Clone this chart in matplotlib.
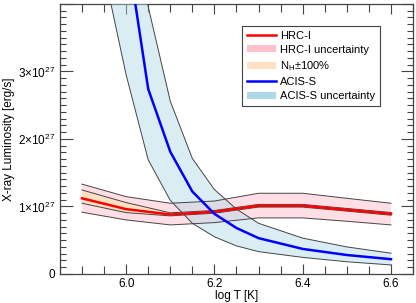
import numpy as np
import matplotlib.pyplot as plt
from matplotlib.patches import Patch
from matplotlib.lines import Line2D
from matplotlib.ticker import MultipleLocator, FuncFormatter

plt.rcParams['font.family'] = ['Liberation Sans', 'DejaVu Sans']
plt.rcParams['mathtext.fontset'] = 'custom'
plt.rcParams['mathtext.rm'] = 'Liberation Sans'

# ---- data (luminosity in units of 1e27 erg/s) ----
logT_hrc = [5.9, 6.0, 6.1, 6.2, 6.3, 6.4, 6.5, 6.6]
hrc = [1.12, 0.96, 0.88, 0.92, 1.01, 1.01, 0.95, 0.89]
hrc_hi = [1.33, 1.145, 1.047, 1.08, 1.195, 1.195, 1.12, 1.047]
hrc_lo = [0.914, 0.80, 0.726, 0.76, 0.83, 0.83, 0.78, 0.726]
nh_hi = [1.244, 1.057, 0.905, 0.94, 1.03, 1.03, 0.97, 0.91]
nh_lo = [1.047, 0.908, 0.86, 0.90, 0.99, 0.99, 0.93, 0.87]

logT_acis = [5.9, 6.0, 6.05, 6.1, 6.15, 6.2, 6.25, 6.3, 6.4, 6.5, 6.6]
acis = [12.0, 4.9, 2.74, 1.81, 1.22, 0.89, 0.68, 0.53, 0.37, 0.28, 0.218]
acis_hi = [17.0, 6.9, 3.96, 2.56, 1.71, 1.25, 0.96, 0.75, 0.53, 0.40, 0.307]
acis_lo = [6.0, 2.95, 1.69, 1.09, 0.75, 0.55, 0.415, 0.33, 0.245, 0.18, 0.133]

scale = 1e27

fig, ax = plt.subplots(figsize=(4.16, 3.03), dpi=100)
fig.subplots_adjust(left=0.144, right=0.993, top=0.987, bottom=0.096)

t_h = np.array(logT_hrc)
t_a = np.array(logT_acis)

# HRC-I bands
ax.fill_between(t_h, np.array(hrc_lo) * scale, np.array(hrc_hi) * scale,
                facecolor='#ffdfe5', edgecolor='none', zorder=1)
ax.plot(t_h, np.array(hrc_hi) * scale, color='#444444', lw=0.7, zorder=4)
ax.plot(t_h, np.array(hrc_lo) * scale, color='#444444', lw=0.7, zorder=4)
ax.fill_between(t_h, np.array(nh_lo) * scale, np.array(nh_hi) * scale,
                facecolor='#ffe0c0', edgecolor='none', zorder=2)
ax.plot(t_h, np.array(nh_hi) * scale, color='#444444', lw=0.7, zorder=4)
ax.plot(t_h, np.array(nh_lo) * scale, color='#444444', lw=0.7, zorder=4)

# ACIS-S band
ax.fill_between(t_a, np.array(acis_lo) * scale, np.array(acis_hi) * scale,
                facecolor='lightblue', alpha=0.45, edgecolor='none', zorder=3)
ax.plot(t_a, np.array(acis_hi) * scale, color='#444444', lw=0.7, zorder=4)
ax.plot(t_a, np.array(acis_lo) * scale, color='#444444', lw=0.7, zorder=4)

ax.plot(t_h, np.array(hrc) * scale, color='red', lw=1.8, zorder=5)
ax.plot(t_a, np.array(acis) * scale, color='blue', lw=1.8, zorder=5)

ax.set_xlim(5.85, 6.65)
ax.set_ylim(0, 4e27)
ax.xaxis.set_major_locator(MultipleLocator(0.2))
ax.xaxis.set_minor_locator(MultipleLocator(0.05))
ax.yaxis.set_major_locator(MultipleLocator(1e27))
ax.yaxis.set_minor_locator(MultipleLocator(1e26))
ax.xaxis.set_major_formatter(FuncFormatter(lambda v, p: '%.1f' % v))


def yfmt(v, p):
    n = int(round(v / scale))
    if n == 0:
        return '0'
    if n >= 4:
        return ''
    return r'%d$\times$10$^{27}$' % n


ax.yaxis.set_major_formatter(FuncFormatter(yfmt))
ax.tick_params(which='both', direction='in', top=True, right=True,
               labelsize=8.5, width=0.8, color='#444444')
ax.tick_params(axis='x', which='major', length=7, pad=3)
ax.tick_params(axis='x', which='minor', length=6)
ax.tick_params(axis='y', which='major', length=9)
ax.tick_params(axis='y', which='minor', length=4)
for s in ax.spines.values():
    s.set_color('#444444')
    s.set_linewidth(0.9)

ax.set_xlabel('log T [K]', fontsize=8.5)
ax.xaxis.set_label_coords(0.5, -0.058)
ax.set_ylabel('X-ray Luminosity [erg/s]', fontsize=8.5, labelpad=2)

handles = [
    Line2D([], [], color='red', lw=1.8),
    Patch(facecolor='pink', edgecolor='none'),
    Patch(facecolor='#ffe0c0', edgecolor='none'),
    Line2D([], [], color='blue', lw=1.8),
    Patch(facecolor='lightblue', edgecolor='none'),
]
labels = ['HRC-I', 'HRC-I uncertainty', r'N$_{\mathrm{H}}$$\pm$100%',
          'ACIS-S', 'ACIS-S uncertainty']
leg = ax.legend(handles, labels, loc='upper right', bbox_to_anchor=(0.915, 0.93),
                fontsize=8, frameon=True, fancybox=False, framealpha=1,
                edgecolor='#444444', handlelength=2.6, handleheight=0.6,
                labelspacing=0.38, borderpad=0.4, handletextpad=0.4,
                borderaxespad=0.3)
leg.get_frame().set_linewidth(0.8)

fig.savefig('out.png', dpi=100)
